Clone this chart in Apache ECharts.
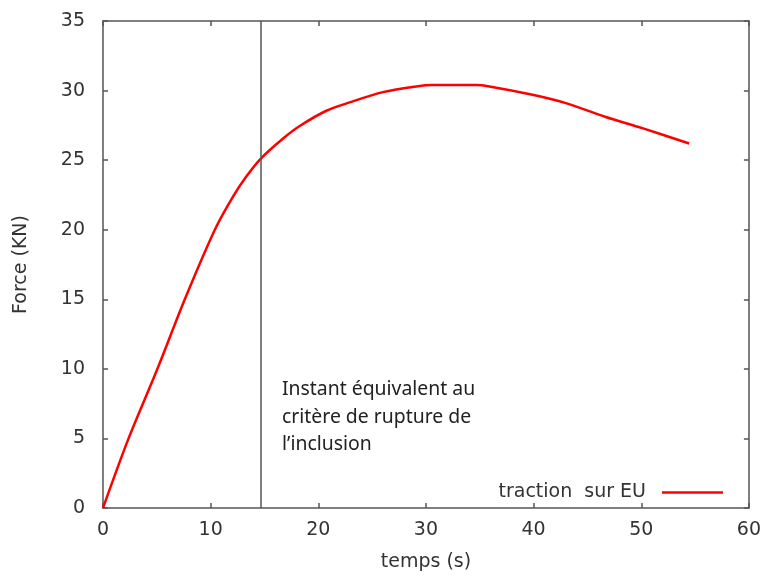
<!DOCTYPE html>
<html>
<head>
<meta charset="utf-8">
<script src="https://cdn.jsdelivr.net/npm/echarts@6/dist/echarts.min.js"></script>
<style>
html,body{margin:0;padding:0;background:#fff;}
#chart{width:764px;height:577px;}
</style>
</head>
<body>
<div id="chart"></div>
<script>
// Data
var timeValues  = [0, 2.35, 5.04, 7.6, 10.39, 12.09, 13.33, 14.62, 16.73, 18.27, 20.75, 22.9, 26.0, 29.1, 30.64, 34.66, 35.9, 39.9, 43.0, 46.7, 50.1, 54.45];
var forceValues = [0, 4.95, 9.97, 15.0, 20.0, 22.4, 23.84, 25.08, 26.55, 27.45, 28.55, 29.15, 29.89, 30.3, 30.4, 30.4, 30.3, 29.7, 29.1, 28.1, 27.3, 26.2];
var seriesName = 'traction  sur EU';
var ruptureTime = 14.65;
var annotationLines = ['Instant équivalent au', 'critère de rupture de', 'l\u2019inclusion'];
var xTicks = {min: 0, max: 60, interval: 10};
var yTicks = {min: 0, max: 35, interval: 5};

var chart = echarts.init(document.getElementById('chart'));
var axisColor = '#555';
var textColor = '#333';
var tickFont = 'DejaVu Sans';
var fs = 19;

function baseAxis(extra) {
  return Object.assign({
    type: 'value',
    axisLine: {show: true, onZero: false, lineStyle: {color: axisColor, width: 1.5}},
    axisTick: {show: true, inside: true, length: 5, lineStyle: {color: axisColor, width: 1.5}},
    splitLine: {show: false},
    axisLabel: {color: textColor, fontFamily: tickFont, fontSize: fs}
  }, extra);
}

var data = timeValues.map(function (t, i) { return [t, forceValues[i]]; });

chart.setOption({
  animation: false,
  backgroundColor: '#fff',
  grid: {left: 103, right: 14, top: 21, bottom: 68},
  xAxis: [
    baseAxis({min: xTicks.min, max: xTicks.max, interval: xTicks.interval,
      name: 'temps (s)', nameLocation: 'middle', nameGap: 45,
      nameTextStyle: {color: textColor, fontFamily: tickFont, fontSize: fs},
      axisLabel: {color: textColor, fontFamily: tickFont, fontSize: fs, margin: 13}}),
    baseAxis({position: 'top', min: xTicks.min, max: xTicks.max, interval: xTicks.interval,
      axisLabel: {show: false}})
  ],
  yAxis: [
    baseAxis({min: yTicks.min, max: yTicks.max, interval: yTicks.interval,
      name: 'Force (KN)', nameLocation: 'middle', nameGap: 72, nameRotate: 90,
      nameTextStyle: {color: textColor, fontFamily: tickFont, fontSize: fs},
      axisLabel: {color: textColor, fontFamily: tickFont, fontSize: fs, margin: 18}}),
    baseAxis({position: 'right', min: yTicks.min, max: yTicks.max, interval: yTicks.interval,
      axisLabel: {show: false}})
  ],
  legend: {
    show: true,
    right: 36, bottom: 70,
    orient: 'horizontal',
    align: 'right',
    itemWidth: 61, itemHeight: 14, itemGap: 14,
    textStyle: {color: textColor, fontFamily: tickFont, fontSize: fs, padding: [0, 11, 0, 0]},
    data: [{name: seriesName, icon: 'path://M0,0 L61,0 L61,2.5 L0,2.5 Z', itemStyle: {color: '#ff0000'}}]
  },
  series: [{
    name: seriesName,
    type: 'line',
    data: data,
    smooth: 0.3,
    showSymbol: false,
    symbol: 'none',
    lineStyle: {color: '#ff0000', width: 2.5},
    itemStyle: {color: '#ff0000'},
    markLine: {
      silent: true,
      symbol: ['none', 'none'],
      label: {show: false},
      lineStyle: {color: axisColor, width: 1.5, type: 'solid'},
      data: [{xAxis: ruptureTime}]
    }
  }],
  graphic: [{
    type: 'text',
    left: 282, top: 376,
    style: {
      text: annotationLines.join('\n'),
      fill: '#222',
      font: '19.4px "Noto Sans"',
      lineHeight: 27.5
    }
  }]
});
</script>
</body>
</html>
